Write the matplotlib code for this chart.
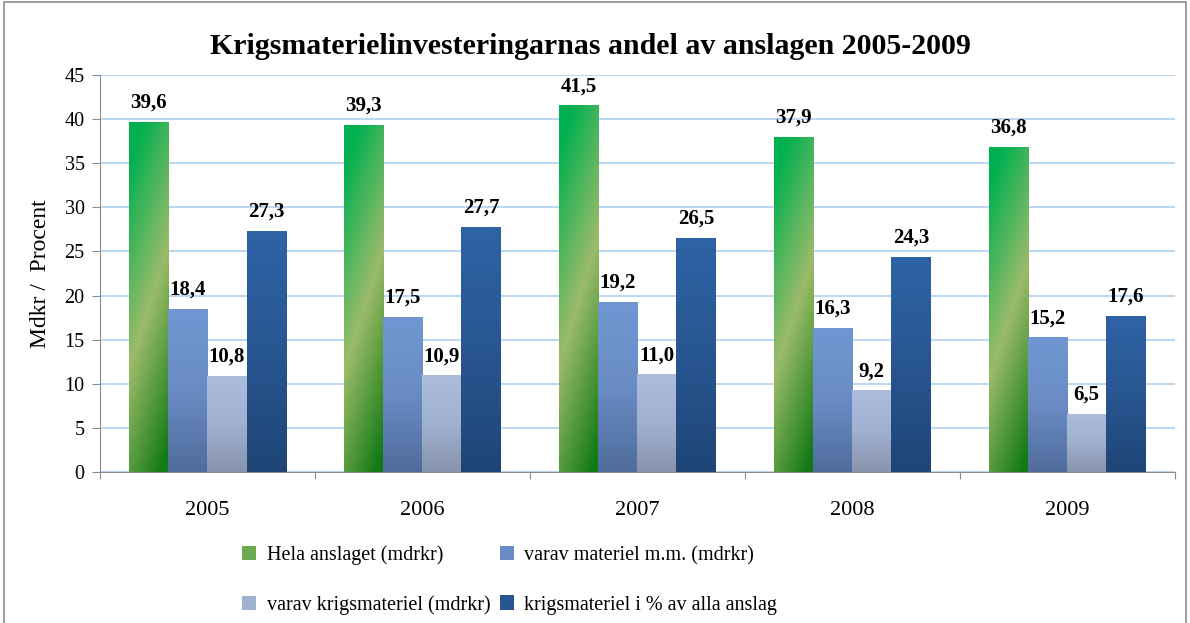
import numpy as np
import matplotlib.pyplot as plt
from matplotlib.colors import LinearSegmentedColormap
from matplotlib.patches import Rectangle

years = ['2005', '2006', '2007', '2008', '2009']
hela = [39.6, 39.3, 41.5, 37.9, 36.8]
materiel = [18.4, 17.5, 19.2, 16.3, 15.2]
krigsmateriel = [10.8, 10.9, 11.0, 9.2, 6.5]
procent = [27.3, 27.7, 26.5, 24.3, 17.6]

series = [hela, materiel, krigsmateriel, procent]
names = ['Hela anslaget (mdrkr)', 'varav materiel m.m. (mdrkr)',
         'varav krigsmateriel (mdrkr)', 'krigsmateriel i % av alla anslag']

# gradient colours: top -> bottom
grads = [
    ['#00b050', '#9bbb6a', '#137a13'],
    ['#7097d2', '#6a8cc4', '#4f6c9c'],
    ['#abbcdd', '#a0b0d0', '#8894ae'],
    ['#2e63a6', '#285691', '#1f4576'],
]
solid = ['#6aaa50', '#6a8cc4', '#a0b0d0', '#285691']

plt.rcParams['font.family'] = ['Liberation Serif', 'DejaVu Serif']

fig = plt.figure(figsize=(11.9, 6.23), dpi=100)
ax = fig.add_axes([0.084, 0.2424, 0.903, 0.6372])

fig.patches.append(Rectangle((0.003, -0.01), 0.994, 1.007, transform=fig.transFigure,
                             fill=False, edgecolor='#8c8c8c', lw=1.2))

x = np.arange(len(years))
w = 0.182
offsets = (np.arange(4) - 1.5) * w

handles = []
for i, vals in enumerate(series):
    bars = ax.bar(x + offsets[i], vals, w, color=solid[i], label=names[i], zorder=2)
    handles.append(bars)
    cmap = LinearSegmentedColormap.from_list('g%d' % i, grads[i])
    for b, v in zip(bars, vals):
        x0, y0 = b.get_x(), b.get_y()
        x1, y1 = x0 + b.get_width(), y0 + b.get_height()
        if i == 0:
            u = np.linspace(0, 1, 40)[None, :]
            t = np.linspace(0, 1, 200)[:, None]
            img = np.clip(t * 0.85 + u * 0.3 - 0.1, 0, 1)
        else:
            img = np.linspace(0, 1, 200)[:, None] * np.ones((1, 2))
        # row 0 of img is the top of the bar
        ax.imshow(img, cmap=cmap, extent=[x0, x1, y0, y1], aspect='auto',
                  origin='upper', zorder=3, interpolation='bilinear', vmin=0, vmax=1)
        ax.annotate(f'{v:.1f}'.replace('.', ','), (b.get_x() + b.get_width() / 2, v),
                    xytext=(0, 7), textcoords='offset points', ha='center', va='bottom',
                    fontsize=15, fontweight='bold', zorder=4)

ax.set_xlim(-0.5, 4.5)
ax.set_ylim(0, 45)
ax.set_yticks(np.arange(0, 46, 5))
ax.yaxis.grid(True, color='#a8cdf0', lw=1.1, zorder=0)
ax.set_axisbelow(True)

ax.set_xticks(np.arange(-0.5, 5, 1))
ax.set_xticklabels([])
ax.set_xticks(x, minor=True)
ax.set_xticklabels(years, minor=True)
ax.tick_params(axis='x', which='minor', length=0, pad=21, labelsize=16)
ax.tick_params(axis='x', which='major', length=5, color='#8c8c8c')
ax.tick_params(axis='y', labelsize=14.5, length=6, pad=5, color='#8c8c8c')

for s in ['top', 'right']:
    ax.spines[s].set_visible(False)
for s in ['left', 'bottom']:
    ax.spines[s].set_color('#8c8c8c')

ax.set_ylabel('Mdkr /  Procent', fontsize=17, labelpad=10)
fig.text(0.496, 0.926, 'Krigsmaterielinvesteringarnas andel av anslagen 2005-2009',
         ha='center', va='center', fontsize=21.5, fontweight='bold')

# legend is filled column by column, reference reads row by row
order = [0, 2, 1, 3]
ax.legend([handles[k] for k in order], [names[k] for k in order],
          loc='upper left', bbox_to_anchor=(0.125, -0.165), ncol=2, frameon=False,
          fontsize=14.5, handlelength=0.7, handleheight=0.7, handletextpad=0.5,
          columnspacing=0.5, labelspacing=1.5, borderaxespad=0)

fig.savefig('out.png', dpi=100)
